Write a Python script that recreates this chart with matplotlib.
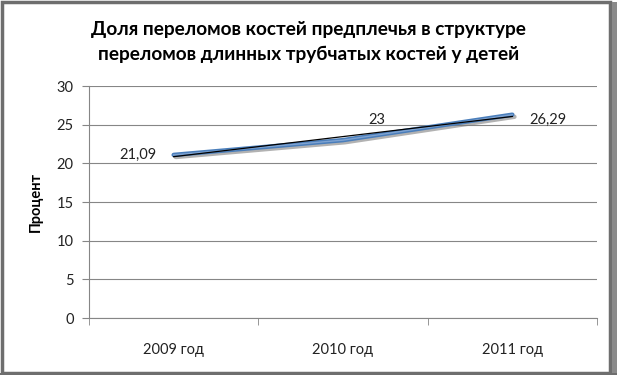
import numpy as np
import matplotlib
matplotlib.use("Agg")
import matplotlib.pyplot as plt
import matplotlib.patheffects as pe
from matplotlib.patches import Rectangle

plt.rcParams['font.family'] = ['Lato', 'DejaVu Sans']

# данные
years = ["2009 год", "2010 год", "2011 год"]
values = [21.09, 23, 26.29]
labels = ["21,09", "23", "26,29"]
y_ticks = [0, 5, 10, 15, 20, 25, 30]

fig = plt.figure(figsize=(6.17, 3.75), dpi=100)
ax = fig.add_axes([89 / 617, 1 - 318 / 375, (597 - 89) / 617, (318 - 86) / 375])

x = np.arange(len(years))

# линия тренда
k, b = np.polyfit(x, values, 1)
ax.plot(x, k * x + b, color='black', lw=0.9, zorder=4)

# основная линия с тенью
ax.plot(x, values, color='#4A7EBB', lw=3.2, solid_capstyle='round', zorder=3,
        path_effects=[pe.SimpleLineShadow(offset=(1.5, -1.5), shadow_color='#7f7f7f', alpha=0.6),
                      pe.Normal()])
ax.plot(x, values, color='#7FA3D1', lw=1.0, zorder=3.5)

# подписи данных
ax.text(x[0] - 0.1, values[0], labels[0], ha='right', va='center', fontsize=10.5, color='#222222')
ax.text(x[1] + 0.2, 25.6, labels[1], ha='center', va='center', fontsize=10.5, color='#222222')
ax.text(x[2] + 0.1, 25.6, labels[2], ha='left', va='center', fontsize=10.5, color='#222222')

ax.set_xlim(-0.5, len(years) - 0.5)
ax.set_ylim(0, 30)
ax.set_yticks(y_ticks)
ax.set_yticklabels([str(t) for t in y_ticks], fontsize=10.5, color='#222222')
ax.set_xticks(x)
ax.set_xticklabels(years, fontsize=10.5, color='#222222')
ax.set_xticks(np.arange(len(years) + 1) - 0.5, minor=True)
ax.tick_params(axis='x', which='major', length=0, pad=18)
ax.tick_params(axis='x', which='minor', length=5, color='#868686', direction='out')
ax.tick_params(axis='y', length=5, color='#868686', pad=6)

ax.grid(axis='y', color='#868686', lw=0.8)
ax.set_axisbelow(True)
for s in ['top', 'right']:
    ax.spines[s].set_visible(False)
for s in ['left', 'bottom']:
    ax.spines[s].set_color('#868686')
    ax.spines[s].set_linewidth(0.8)

ax.set_ylabel("Процент", fontsize=10.5, fontweight='bold', labelpad=10)

fig.text(0.5, 1 - 42 / 375, "Доля переломов костей предплечья в структуре\nпереломов длинных трубчатых костей у детей",
         ha='center', va='center', fontsize=13.7, fontweight='bold', linespacing=1.5)

# рамка и тень области диаграммы
fig.patches.append(Rectangle((0.004, 0.006), 0.985, 0.99, transform=fig.transFigure, fill=False,
                             edgecolor='#6e6e6e', lw=2.5, zorder=10))
fig.patches.append(Rectangle((0.992, 0.0), 0.008, 0.995, transform=fig.transFigure,
                             facecolor='#8a8a8a', edgecolor='none', zorder=10))
fig.patches.append(Rectangle((0.0, 0.0), 1.0, 0.006, transform=fig.transFigure,
                             facecolor='#6e6e6e', edgecolor='none', zorder=10))

fig.savefig("out.png", dpi=100)
